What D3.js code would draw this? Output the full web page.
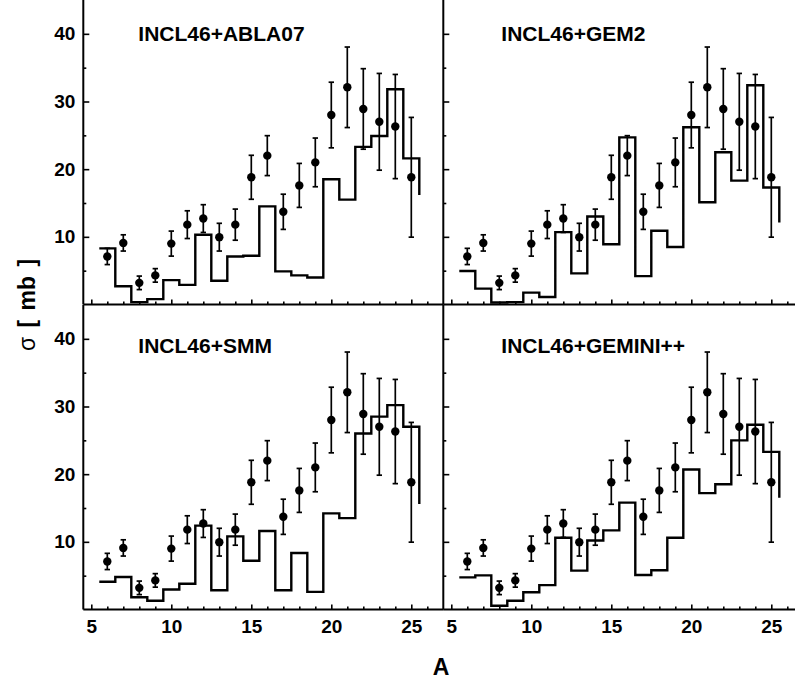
<!DOCTYPE html>
<html>
  <head>
    <meta charset="UTF-8">
    <title>cross sections</title>
    <style>
      body {
        margin: 0;
        background: #fff;
      }
      svg text {
        font-family: "Liberation Sans", Arial, sans-serif;
        font-weight: bold;
        fill: #000;
      }
      .axis path.domain {
        display: none;
      }
      .axis line {
        stroke: #000;
        stroke-width: 1.6px;
      }
    </style>
    <script src="https://d3js.org/d3.v7.min.js"></script>
  </head>
  <body>
    <div class="graph1"></div>
    <script>
      // mass numbers of the measured fragments
      var massA = [6, 7, 8, 9, 10, 11, 12, 13, 14, 15, 16, 17, 18, 19, 20, 21, 22, 23, 24, 25];

      // experimental cross sections [mb] and their errors
      var expSigma = [7.1, 9.1, 3.2, 4.3, 9.0, 11.8, 12.7, 9.95, 11.8, 18.8, 22.0, 13.7, 17.6, 21.0, 28.0, 32.1, 28.9, 27.0, 26.3, 18.8];
      var expErr = [1.2, 1.2, 1.0, 1.0, 1.85, 2.05, 2.05, 2.05, 2.3, 3.25, 2.95, 2.6, 3.25, 3.6, 4.85, 5.95, 5.95, 7.15, 7.7, 8.85];

      // model histograms, bins A = 6..25, last value is where the final step ends (A = 26)
      var histA = [6, 7, 8, 9, 10, 11, 12, 13, 14, 15, 16, 17, 18, 19, 20, 21, 22, 23, 24, 25, 26];
      var abla07 = [8.3, 2.7, 0.35, 0.8, 3.6, 2.9, 10.3, 3.5, 7.1, 7.2, 14.5, 4.9, 4.3, 4.0, 18.5, 15.5, 23.3, 24.9, 31.8, 21.6, 16.2];
      var gem2 = [4.95, 2.35, 0.3, 0.35, 1.75, 1.1, 10.7, 4.6, 13.0, 8.9, 24.7, 4.2, 10.9, 8.5, 26.2, 15.1, 22.5, 18.3, 32.4, 17.3, 12.1];
      var smm = [4.1, 4.8, 1.8, 1.3, 2.95, 3.8, 12.4, 2.85, 10.8, 7.2, 11.6, 2.85, 8.35, 2.6, 14.2, 13.5, 26.0, 28.5, 30.2, 27.0, 15.6];
      var gemini = [4.75, 5.05, 0.55, 1.3, 2.55, 3.6, 10.6, 5.75, 10.2, 11.7, 15.8, 5.1, 5.8, 10.6, 20.7, 17.2, 18.5, 25.0, 27.3, 23.3, 16.5];

      var panelTitles = ["INCL46+ABLA07", "INCL46+GEM2", "INCL46+SMM", "INCL46+GEMINI++"];
      var panelModels = [abla07, gem2, smm, gemini];

      // axis ticks
      var xMajor = [5, 10, 15, 20, 25];
      var xMinor = [6, 7, 8, 9, 11, 12, 13, 14, 16, 17, 18, 19, 21, 22, 23, 24, 26];
      var yMajor = [10, 20, 30, 40];
      var yMinor = [5, 15, 25, 35];

      var width = 795, height = 685;
      var left = 83.3, pw = 360, ph = 304.5;

      var svg = d3.select(".graph1").append("svg")
        .attr("width", width)
        .attr("height", height);

      var xScale = d3.scaleLinear().domain([4.5, 27]).range([0, pw]);
      var yScale = d3.scaleLinear().domain([0, 45]).range([ph, 0]);

      var step = d3.line()
        .x(function(d) { return xScale(d.a - 0.5); })
        .y(function(d) { return yScale(d.v); })
        .curve(d3.curveStepAfter);

      panelTitles.forEach(function(title, i) {
        var col = i % 2, row = Math.floor(i / 2);
        var g = svg.append("g")
          .attr("transform", "translate(" + (left + col * pw) + "," + (row * (ph + 0.5)) + ")");

        // x ticks (inward)
        g.append("g")
          .attr("class", "axis")
          .attr("transform", "translate(0," + ph + ")")
          .call(d3.axisBottom(xScale).tickValues(xMinor).tickSize(-3).tickFormat(""));
        var xa = g.append("g")
          .attr("class", "axis")
          .attr("transform", "translate(0," + ph + ")")
          .call(d3.axisBottom(xScale).tickValues(xMajor).tickSize(-5).tickPadding(10)
            .tickFormat(row == 1 ? d3.format("d") : ""));
        xa.selectAll("text").style("font-size", "19px");

        // y ticks (inward)
        g.append("g")
          .attr("class", "axis")
          .call(d3.axisLeft(yScale).tickValues(yMinor).tickSize(-3).tickFormat(""));
        var ya = g.append("g")
          .attr("class", "axis")
          .call(d3.axisLeft(yScale).tickValues(yMajor).tickSize(-6).tickPadding(8)
            .tickFormat(col == 0 ? d3.format("d") : ""));
        ya.selectAll("text").style("font-size", "19px");

        // frame lines
        g.append("line")
          .attr("x1", 0).attr("x2", 0)
          .attr("y1", 0).attr("y2", ph)
          .attr("stroke", "#000").attr("stroke-width", 2);
        g.append("line")
          .attr("x1", 0).attr("x2", pw)
          .attr("y1", ph).attr("y2", ph)
          .attr("stroke", "#000").attr("stroke-width", 2);

        // model histogram
        var hist = histA.map(function(a, k) { return {a: a, v: panelModels[i][k]}; });
        g.append("path")
          .datum(hist)
          .attr("d", step)
          .attr("fill", "none")
          .attr("stroke", "#000")
          .attr("stroke-width", 2.4);

        // experimental data
        var pts = massA.map(function(a, k) { return {a: a, v: expSigma[k], e: expErr[k]}; });
        var bars = g.append("g").selectAll("g")
          .data(pts)
          .enter().append("g");
        bars.append("line")
          .attr("x1", function(d) { return xScale(d.a); })
          .attr("x2", function(d) { return xScale(d.a); })
          .attr("y1", function(d) { return yScale(d.v - d.e); })
          .attr("y2", function(d) { return yScale(d.v + d.e); })
          .attr("stroke", "#000").attr("stroke-width", 1.7);
        [-1, 1].forEach(function(s) {
          bars.append("line")
            .attr("x1", function(d) { return xScale(d.a) - 2.7; })
            .attr("x2", function(d) { return xScale(d.a) + 2.7; })
            .attr("y1", function(d) { return yScale(d.v + s * d.e); })
            .attr("y2", function(d) { return yScale(d.v + s * d.e); })
            .attr("stroke", "#000").attr("stroke-width", 1.7);
        });
        bars.append("circle")
          .attr("cx", function(d) { return xScale(d.a); })
          .attr("cy", function(d) { return yScale(d.v); })
          .attr("r", 4.2)
          .attr("fill", "#000");

        // panel title
        g.append("text")
          .attr("x", col == 0 ? 55 : 58)
          .attr("y", row == 0 ? 41 : 48)
          .style("font-size", "21px")
          .text(title);
      });

      // axis titles
      svg.append("text")
        .attr("transform", "translate(35,305) rotate(-90)")
        .style("text-anchor", "middle")
        .style("font-size", "23px")
        .style("word-spacing", "3px")
        .html('<tspan style="font-weight:normal">σ</tspan> [ mb ]');

      svg.append("text")
        .attr("x", 441)
        .attr("y", 675)
        .style("text-anchor", "middle")
        .style("font-size", "23px")
        .text("A");
    </script>
  </body>
</html>
